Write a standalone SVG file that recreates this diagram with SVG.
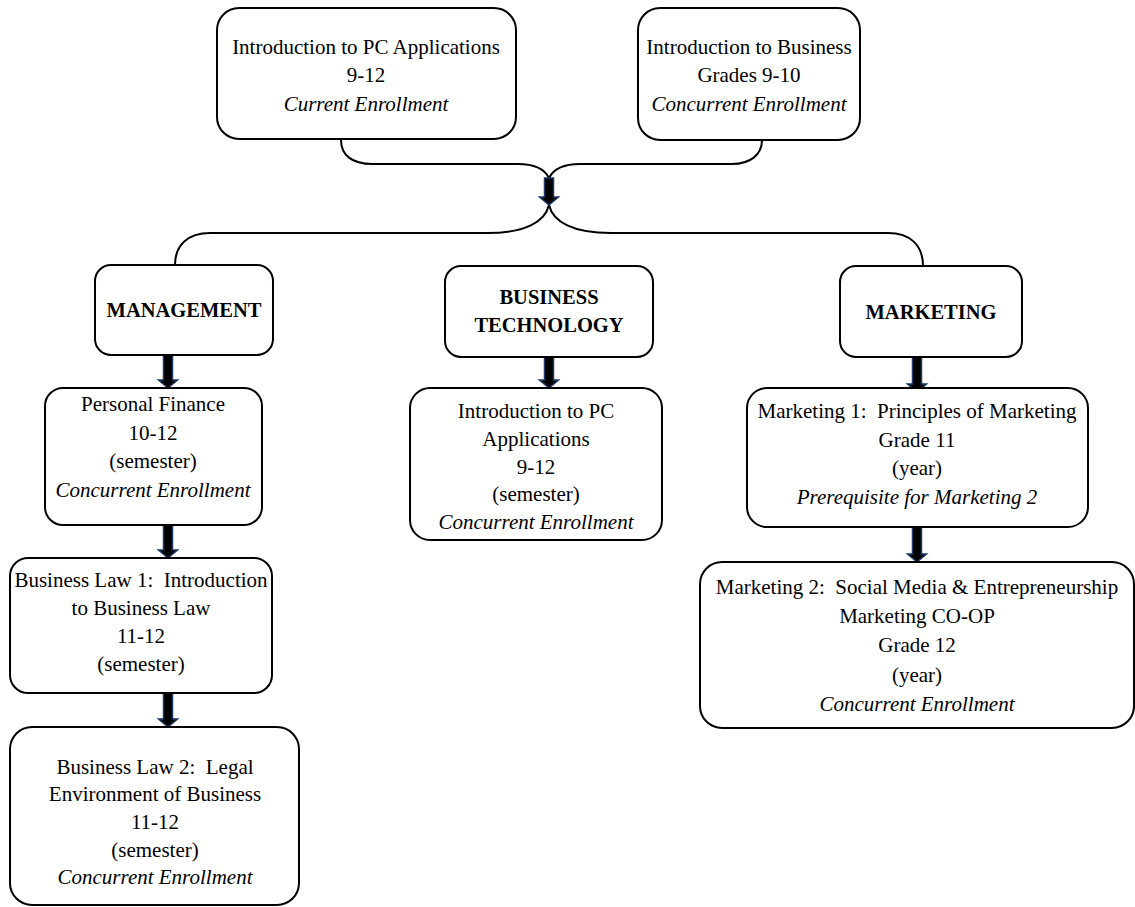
<svg xmlns="http://www.w3.org/2000/svg" width="1135" height="907" viewBox="0 0 1135 907">
<style>
.box{fill:#fff;stroke:#000;stroke-width:2}
.t{font-family:"Liberation Serif","Times New Roman",serif;font-size:21px;fill:#000;text-anchor:middle}
.i{font-style:italic}
.b{font-weight:bold;font-size:20.5px}
.brace{fill:none;stroke:#000;stroke-width:2}
.arr{fill:#000;stroke:#1f3864;stroke-width:1.5}
</style>
<rect width="1135" height="907" fill="#fff"/>
<g id="connectors">
<path class="brace" d="M341,140 C341,155 352,164 372,164 L518,164 C535,164 545,170 549,178 C553,170 563,164 580,164 L732,164 C750,164 762,155 762,140"/>
<path class="brace" d="M175,265 C175,245 188,233 210,233 L487,233 C525,233 545,222 549,205 C553,222 573,233 611,233 L888,233 C910,233 923,245 923,266"/>
<polygon class="arr" points="544.5,178 553.5,178 553.5,197 558.5,197 549,205 539.5,197 544.5,197"/>
<polygon class="arr" points="163.5,355 172.5,355 172.5,380 177.5,380 168,388 158.5,380 163.5,380"/>
<polygon class="arr" points="544.5,357 553.5,357 553.5,380 558.5,380 549,388 539.5,380 544.5,380"/>
<polygon class="arr" points="912.5,357 921.5,357 921.5,384 926.5,384 917,392 907.5,384 912.5,384"/>
<polygon class="arr" points="163.5,525 172.5,525 172.5,550 177.5,550 168,558 158.5,550 163.5,550"/>
<polygon class="arr" points="163.5,693 172.5,693 172.5,719 177.5,719 168,727 158.5,719 163.5,719"/>
<polygon class="arr" points="912.5,527 921.5,527 921.5,554 926.5,554 917,562 907.5,554 912.5,554"/>
</g>
<g id="intro-pc-top">
<rect class="box" x="217" y="8" width="299" height="131" rx="22"/>
<text class="t" x="366" y="54">Introduction to PC Applications</text>
<text class="t" x="366" y="82">9-12</text>
<text class="t i" x="366" y="111">Current Enrollment</text>
</g>
<g id="intro-business">
<rect class="box" x="638" y="8" width="222" height="132" rx="22"/>
<text class="t" x="749" y="54">Introduction to Business</text>
<text class="t" x="749" y="82">Grades 9-10</text>
<text class="t i" x="749" y="111">Concurrent Enrollment</text>
</g>
<g id="management">
<rect class="box" x="95" y="265" width="178" height="90" rx="16"/>
<text class="t b" x="184" y="317">MANAGEMENT</text>
</g>
<g id="business-technology">
<rect class="box" x="445" y="266" width="208" height="91" rx="16"/>
<text class="t b" x="549" y="304">BUSINESS</text>
<text class="t b" x="549" y="332">TECHNOLOGY</text>
</g>
<g id="marketing">
<rect class="box" x="840" y="266" width="182" height="91" rx="16"/>
<text class="t b" x="931" y="319">MARKETING</text>
</g>
<g id="personal-finance">
<rect class="box" x="45" y="388" width="217" height="137" rx="18"/>
<text class="t" x="153" y="411">Personal Finance</text>
<text class="t" x="153" y="440">10-12</text>
<text class="t" x="153" y="468">(semester)</text>
<text class="t i" x="153" y="497">Concurrent Enrollment</text>
</g>
<g id="intro-pc-bt">
<rect class="box" x="410" y="388" width="252" height="152" rx="20"/>
<text class="t" x="536" y="418">Introduction to PC</text>
<text class="t" x="536" y="446">Applications</text>
<text class="t" x="536" y="474">9-12</text>
<text class="t" x="536" y="501">(semester)</text>
<text class="t i" x="536" y="529">Concurrent Enrollment</text>
</g>
<g id="marketing-1">
<rect class="box" x="747" y="388" width="341" height="139" rx="20"/>
<text class="t" x="917" y="418">Marketing 1:&#160; Principles of Marketing</text>
<text class="t" x="917" y="447">Grade 11</text>
<text class="t" x="917" y="475">(year)</text>
<text class="t i" x="917" y="504">Prerequisite for Marketing 2</text>
</g>
<g id="business-law-1">
<rect class="box" x="10" y="558" width="262" height="135" rx="18"/>
<text class="t" x="141" y="587">Business Law 1:&#160; Introduction</text>
<text class="t" x="141" y="615">to Business Law</text>
<text class="t" x="141" y="643">11-12</text>
<text class="t" x="141" y="671">(semester)</text>
</g>
<g id="marketing-2">
<rect class="box" x="700" y="562" width="434" height="166" rx="22"/>
<text class="t" x="917" y="594">Marketing 2:&#160; Social Media &amp; Entrepreneurship</text>
<text class="t" x="917" y="623">Marketing CO-OP</text>
<text class="t" x="917" y="652">Grade 12</text>
<text class="t" x="917" y="682">(year)</text>
<text class="t i" x="917" y="711">Concurrent Enrollment</text>
</g>
<g id="business-law-2">
<rect class="box" x="10" y="727" width="289" height="178" rx="22"/>
<text class="t" x="155" y="774">Business Law 2:&#160; Legal</text>
<text class="t" x="155" y="801">Environment of Business</text>
<text class="t" x="155" y="829">11-12</text>
<text class="t" x="155" y="857">(semester)</text>
<text class="t i" x="155" y="884">Concurrent Enrollment</text>
</g>
</svg>
